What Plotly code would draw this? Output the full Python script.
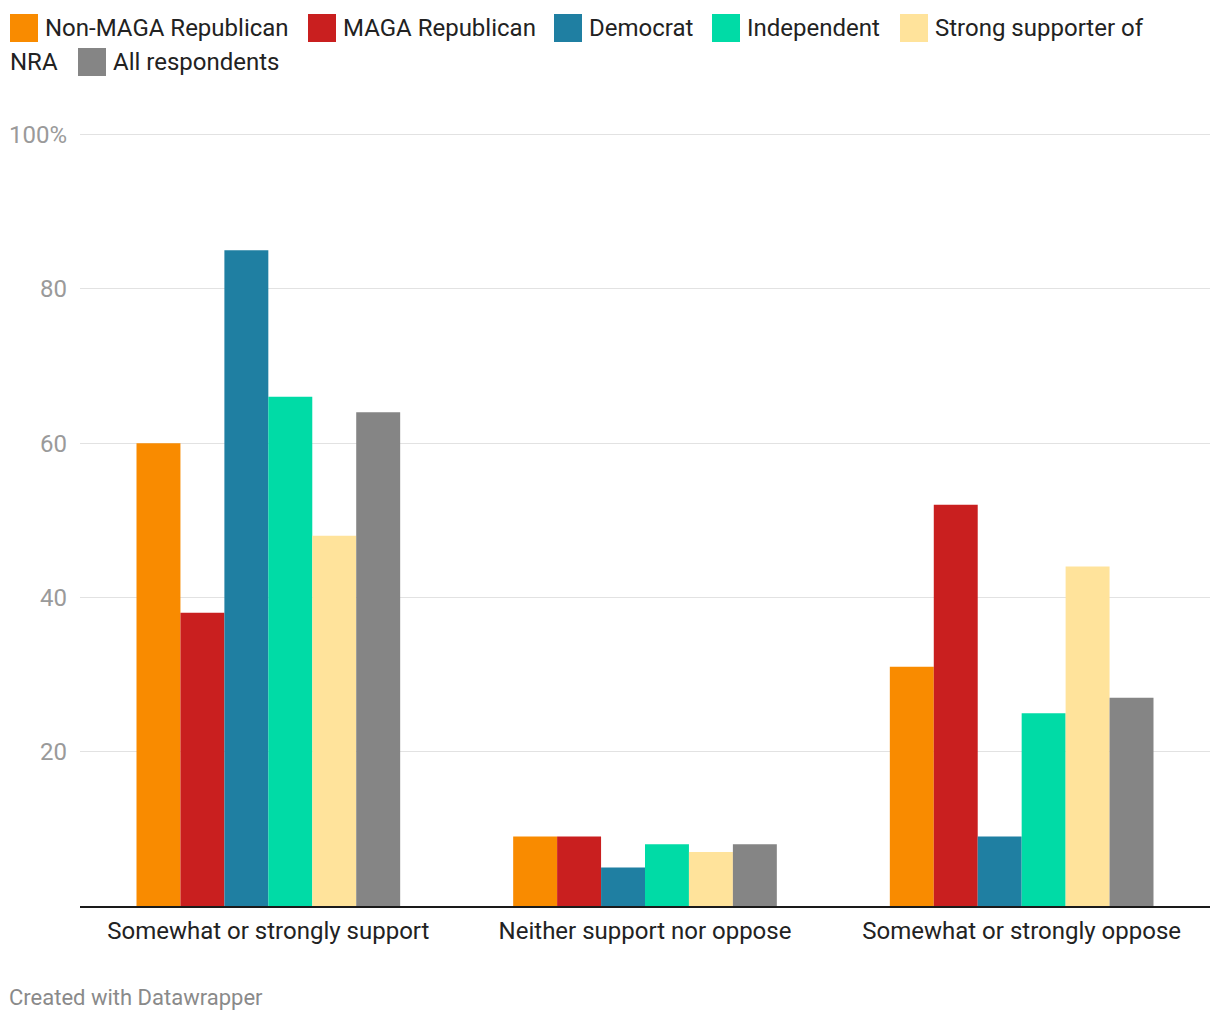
import plotly.graph_objects as go

categories = ["Somewhat or strongly support", "Neither support nor oppose", "Somewhat or strongly oppose"]
series_names = ["Non-MAGA Republican", "MAGA Republican", "Democrat", "Independent",
                "Strong supporter of NRA", "All respondents"]
non_maga = [60, 9, 31]
maga = [38, 9, 52]
democrat = [85, 5, 9]
independent = [66, 8, 25]
nra = [48, 7, 44]
all_resp = [64, 8, 27]
series_values = [non_maga, maga, democrat, independent, nra, all_resp]
colors = ["#f98b00", "#c91f1f", "#1f7fa2", "#00dba6", "#ffe39b", "#858585"]
tick_vals = [20, 40, 60, 80, 100]
tick_text = ["20", "40", "60", "80", "100%"]

OFF = 8  # page body margin
W, H = 1220 - OFF, 1020 - OFF
L = 80 - OFF
T = 133 - OFF
R = W - (1210 - OFF)
B = H - (906 - OFF)
PW, PH = W - L - R, H - T - B


def px(x):
    return (x - OFF - L) / PW


def py(y):
    return (H + OFF - B - y) / PH


fig = go.Figure()
for name, vals, col in zip(series_names, series_values, colors):
    fig.add_trace(go.Bar(x=categories, y=vals, name=name, marker_color=col,
                         marker_line_width=0, showlegend=False))

FONT = "Roboto"
legend_items = [
    (10, 28, 0, "Non-MAGA Republican"),
    (308, 28, 1, "MAGA Republican"),
    (554, 28, 2, "Democrat"),
    (712, 28, 3, "Independent"),
    (900, 28, 4, "Strong supporter of"),
    (78, 62, 5, "All respondents"),
]
shapes = []
annotations = []
for x0, yc, idx, label in legend_items:
    shapes.append(dict(type="rect", xref="paper", yref="paper",
                       x0=px(x0), x1=px(x0 + 28), y0=py(yc + 14), y1=py(yc - 14),
                       fillcolor=colors[idx], line_width=0))
    annotations.append(dict(xref="paper", yref="paper", x=px(x0 + 33), y=py(yc),
                            xanchor="left", yanchor="middle", text=label, showarrow=False,
                            font=dict(family=FONT, size=24, color="#222222")))
annotations.append(dict(xref="paper", yref="paper", x=px(8), y=py(62),
                        xanchor="left", yanchor="middle", text="NRA", showarrow=False,
                        font=dict(family=FONT, size=24, color="#222222")))
annotations.append(dict(xref="paper", yref="paper", x=px(7), y=py(997),
                        xanchor="left", yanchor="middle", text="Created with Datawrapper",
                        showarrow=False, font=dict(family=FONT, size=22, color="#8a8a8a")))

fig.update_layout(
    width=W, height=H,
    margin=dict(l=L, r=R, t=T, b=B, pad=0),
    paper_bgcolor="white", plot_bgcolor="white",
    barmode="group", bargap=0.30, bargroupgap=0,
    font=dict(family=FONT, size=24, color="#222222"),
    shapes=shapes, annotations=annotations,
    showlegend=False,
    hovermode=False,
)
fig.update_yaxes(range=[0, 100.2], tickvals=tick_vals, ticktext=tick_text,
                 showgrid=True, gridcolor="#e2e2e2", gridwidth=1,
                 zeroline=False, showline=False, automargin=False,
                 tickfont=dict(family=FONT, size=24, color="#9a9a9a"),
                 ticks="", ticklen=0, ticklabelstandoff=12)
fig.update_xaxes(showline=True, linecolor="#1a1a1a", linewidth=2, automargin=False,
                 tickfont=dict(family=FONT, size=24, color="#222222"),
                 ticks="", ticklen=0, ticklabelstandoff=2)

fig.write_html("out.html")
